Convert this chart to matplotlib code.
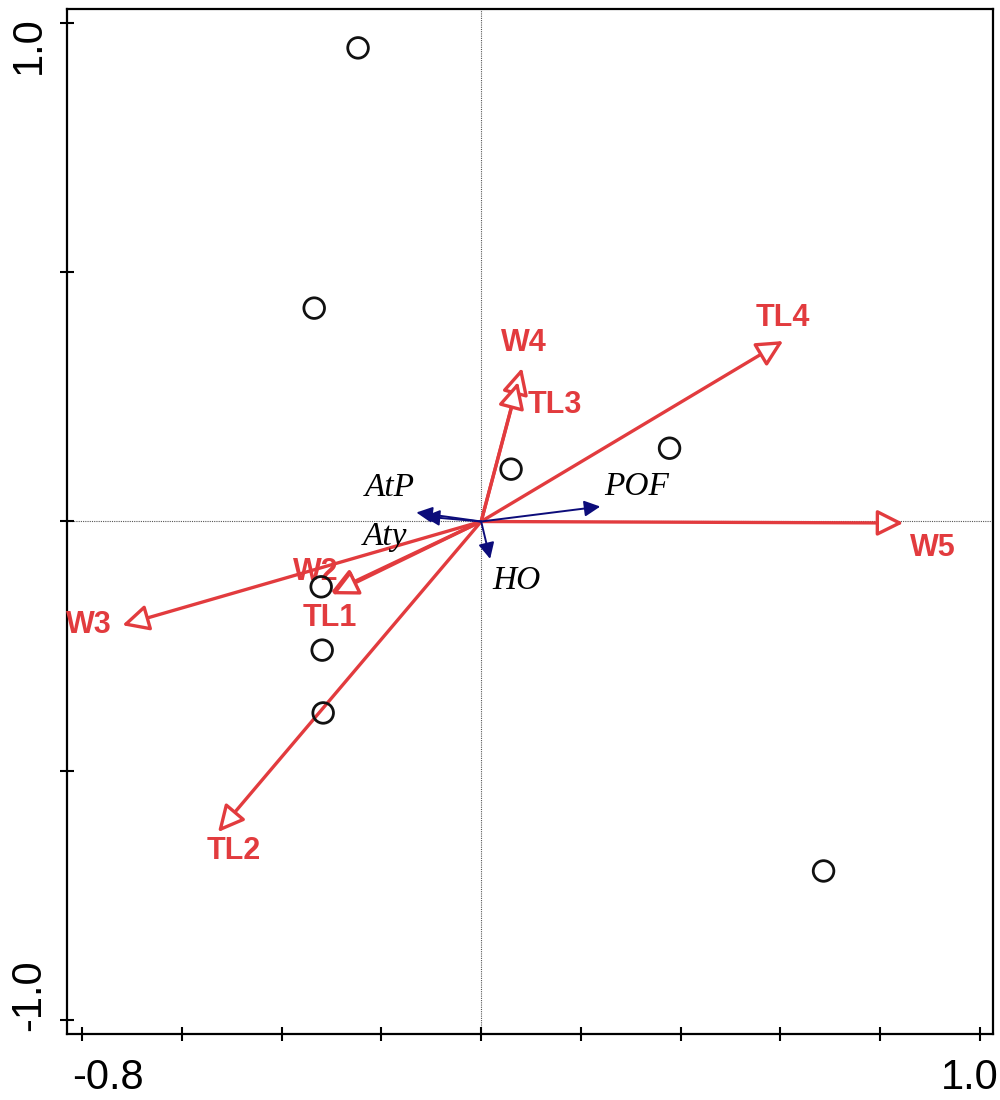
import matplotlib.pyplot as plt
import matplotlib.transforms as mtransforms
import numpy as np

# sample scores
site_x = [-0.247, -0.335, 0.060, 0.378, -0.321, -0.319, -0.317, 0.687]
site_y = [0.950, 0.428, 0.105, 0.147, -0.131, -0.258, -0.384, -0.701]

# response variables (red)
resp_names = ['TL4', 'W4', 'TL3', 'W5', 'W3', 'W2', 'TL1', 'TL2']
resp_x = [0.606, 0.082, 0.074, 0.847, -0.720, -0.302, -0.300, -0.528]
resp_y = [0.362, 0.308, 0.280, -0.003, -0.208, -0.143, -0.146, -0.623]
resp_lab_x = [0.606, 0.086, 0.147, 0.907, -0.787, -0.331, -0.303, -0.496]
resp_lab_y = [0.408, 0.358, 0.234, -0.053, -0.208, -0.101, -0.194, -0.661]

# explanatory variables (blue)
expl_names = ['AtP', 'Aty', 'POF', 'HO']
expl_x = [-0.130, -0.115, 0.239, 0.018]
expl_y = [0.018, 0.010, 0.030, -0.075]
expl_lab_x = [-0.183, -0.193, 0.311, 0.070]
expl_lab_y = [0.067, -0.031, 0.069, -0.119]

red = '#e23b3e'
navy = '#0c0c7a'

fig = plt.figure(figsize=(10, 11), dpi=100)
ax = fig.add_axes([0.067, 1 - 1034 / 1100, 0.926, 1025.5 / 1100])
ax.set_xlim(-0.831, 1.027)
ax.set_ylim(-1.028, 1.029)

ax.axhline(0, color='#555555', lw=0.8, ls=(0, (1, 1)), zorder=1)
ax.axvline(0, color='#555555', lw=0.8, ls=(0, (1, 1)), zorder=1)

for x, y in zip(resp_x, resp_y):
    ax.annotate('', xy=(x, y), xytext=(0, 0),
                arrowprops=dict(arrowstyle='-|>', mutation_scale=40, lw=2.4,
                                fc='white', ec=red, shrinkA=0, shrinkB=0),
                zorder=3)
for name, x, y in zip(resp_names, resp_lab_x, resp_lab_y):
    ax.text(x, y, name, color=red, fontsize=22, fontweight='bold',
            family='Liberation Sans', ha='center', va='center', zorder=5)

for x, y in zip(expl_x, expl_y):
    ax.annotate('', xy=(x, y), xytext=(0, 0),
                arrowprops=dict(arrowstyle='-|>', mutation_scale=24, lw=1.4,
                                fc=navy, ec=navy, shrinkA=0, shrinkB=0),
                zorder=4)
for name, x, y in zip(expl_names, expl_lab_x, expl_lab_y):
    ax.text(x, y, name, color='black', fontsize=24, fontstyle='italic',
            family='Liberation Serif', ha='center', va='center', zorder=5)

ax.scatter(site_x, site_y, s=220, facecolors='none', edgecolors='#111111',
           linewidths=2, zorder=6)

ax.set_xticks(np.round(np.arange(-0.8, 1.01, 0.2), 1))
ax.set_xticklabels(['-0.8'] + [''] * 8 + ['1.0'])
ax.set_yticks([-1.0, -0.5, 0.0, 0.5, 1.0])
ax.set_yticklabels(['-1.0', '', '', '', '1.0'], rotation=90, va='center')
ax.tick_params(direction='inout', length=10, width=1.5, labelsize=30)
ax.tick_params(axis='x', pad=12)
ax.tick_params(axis='y', pad=8)
for lab in ax.get_xticklabels() + ax.get_yticklabels():
    lab.set_family('Liberation Sans')

# end labels are pulled inward so they stay on the page
def shift(lab, dx, dy):
    lab.set_transform(lab.get_transform() +
                      mtransforms.ScaledTranslation(dx / 100, dy / 100, fig.dpi_scale_trans))

xl = ax.get_xticklabels()
shift(xl[0], 25, 0)
shift(xl[-1], -10, 0)
yl = ax.get_yticklabels()
shift(yl[0], 0, 25)
shift(yl[-1], 0, -22)

for sp in ax.spines.values():
    sp.set_linewidth(1.6)

fig.savefig('out.png', dpi=100)
